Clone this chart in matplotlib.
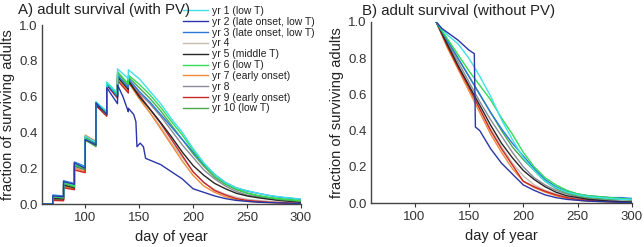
import numpy as np
import matplotlib
matplotlib.use("Agg")
import matplotlib.pyplot as plt

plt.rcParams.update({"font.family": ["Liberation Sans", "DejaVu Sans"],
                     "axes.spines.top": False, "axes.spines.right": False})

LABELS = ["yr 1 (low T)", "yr 2 (late onset, low T)", "yr 3 (late onset, low T)", "yr 4",
          "yr 5 (middle T)", "yr 6 (low T)", "yr 7 (early onset)", "yr 8",
          "yr 9 (early onset)", "yr 10 (low T)"]
COLORS = ["#3fe0e8", "#2a36a8", "#2a78d8", "#c8bcb0", "#262626", "#2fdc55",
          "#f08a3a", "#8a8a98", "#c82828", "#4aaa4a"]

# ── panel A: with PV (releases every 10 days -> sawtooth) ─────────
DAY_A = [60, 70, 70, 80, 80, 90, 90, 100, 100, 110, 110, 120, 120, 130, 130, 140, 140,
         150, 160, 170, 180, 190, 200, 210, 220, 230, 240, 250, 260, 270, 280, 290, 300]
A1 = [0, 0, .045, .04, .125, .11, .23, .205, .38, .345, .57, .52, .68, .62, .755, .70, .75,
      .70, .63, .56, .475, .40, .31, .23, .165, .12, .09, .075, .06, .048, .04, .034, .028]
A3 = [0, 0, .05, .045, .13, .115, .235, .21, .365, .34, .56, .515, .67, .60, .72, .65, .70,
      .63, .57, .50, .43, .36, .29, .22, .165, .12, .09, .072, .06, .048, .038, .032, .026]
A4 = [0, 0, .03, .027, .10, .088, .205, .185, .37, .335, .55, .495, .665, .60, .70, .63, .685,
      .59, .51, .43, .34, .26, .18, .12, .08, .055, .038, .026, .02, .015, .01, .008, .005]
A5 = [0, 0, .03, .028, .105, .09, .215, .195, .36, .33, .555, .505, .665, .60, .71, .64, .69,
      .60, .53, .455, .375, .29, .215, .16, .115, .085, .06, .045, .035, .027, .02, .015, .01]
A6 = [0, 0, .04, .035, .12, .10, .22, .20, .37, .33, .57, .51, .68, .61, .74, .67, .72,
      .67, .61, .54, .46, .385, .30, .225, .16, .115, .085, .062, .048, .038, .03, .025, .02]
A7 = [0, 0, .025, .022, .095, .085, .20, .18, .385, .35, .56, .50, .67, .60, .70, .63, .68,
      .59, .51, .42, .33, .24, .16, .10, .065, .04, .025, .015, .01, .008, .005, .003, .002]
A8 = [0, 0, .035, .03, .11, .095, .21, .19, .355, .325, .55, .50, .67, .60, .72, .64, .69,
      .62, .56, .49, .41, .33, .26, .19, .14, .10, .07, .05, .04, .03, .02, .015, .01]
A9 = [0, 0, .02, .018, .09, .08, .19, .175, .375, .335, .55, .49, .665, .59, .69, .62, .68,
      .61, .53, .45, .36, .27, .18, .12, .075, .05, .03, .02, .015, .01, .008, .005, .003]
A10 = [0, 0, .04, .035, .115, .095, .215, .195, .36, .32, .565, .50, .675, .61, .735, .66, .71,
       .65, .59, .52, .44, .36, .28, .21, .15, .11, .08, .06, .045, .035, .025, .02, .015]
DAY_A2 = [60, 70, 70, 80, 80, 90, 90, 100, 100, 110, 110, 120, 120, 130, 130, 135, 140, 140,
          145, 147, 148, 151, 154, 156, 160, 170, 180, 190, 200, 210, 220, 230, 240, 250,
          260, 270, 280, 290, 300]
A2 = [0, 0, .045, .04, .125, .11, .23, .20, .36, .33, .565, .50, .65, .56, .665, .60, .515, .535,
      .50, .46, .32, .34, .32, .255, .245, .22, .18, .14, .085, .065, .045, .03, .02, .015,
      .01, .008, .006, .004, .003]

# ── panel B: without PV (single cohort from day 120) ──────────────
DAY_B = [120, 130, 140, 150, 160, 170, 180, 190, 200, 210, 220, 230, 240, 250, 260, 270,
         280, 290, 300]
B1 = [1.0, .93, .88, .80, .70, .59, .46, .35, .25, .18, .12, .085, .06, .045, .035, .03, .025, .02, .02]
B3 = [1.0, .90, .80, .70, .60, .50, .41, .33, .26, .19, .13, .09, .065, .05, .04, .035, .03, .03, .025]
B4 = [1.0, .87, .75, .63, .52, .41, .31, .22, .15, .10, .07, .05, .035, .025, .018, .012, .008, .006, .004]
B5 = [1.0, .88, .76, .65, .54, .43, .33, .25, .18, .13, .09, .06, .04, .03, .02, .015, .01, .008, .005]
B6 = [1.0, .91, .82, .73, .65, .57, .47, .38, .28, .20, .14, .10, .07, .05, .04, .035, .03, .025, .02]
B7 = [1.0, .86, .74, .62, .50, .38, .28, .19, .12, .085, .06, .04, .025, .015, .01, .008, .005, .003, .002]
B8 = [1.0, .89, .78, .67, .56, .46, .37, .28, .20, .14, .10, .07, .05, .035, .025, .02, .015, .01, .01]
B9 = [1.0, .87, .75, .64, .52, .40, .30, .21, .12, .09, .065, .045, .03, .02, .015, .01, .008, .005, .003]
B10 = [1.0, .90, .80, .70, .60, .50, .40, .31, .24, .18, .12, .08, .055, .04, .03, .025, .02, .02, .015]
DAY_B2 = [120, 125, 140, 150, 155, 156, 160, 170, 180, 190, 200, 210, 220, 230, 240, 250,
          260, 270, 280, 290, 300]
B2 = [1.0, .965, .90, .845, .825, .42, .40, .30, .22, .16, .10, .07, .045, .03, .02, .015,
      .01, .008, .006, .004, .003]

series_a = [(DAY_A, A1), (DAY_A2, A2), (DAY_A, A3), (DAY_A, A4), (DAY_A, A5),
            (DAY_A, A6), (DAY_A, A7), (DAY_A, A8), (DAY_A, A9), (DAY_A, A10)]
series_b = [(DAY_B, B1), (DAY_B2, B2), (DAY_B, B3), (DAY_B, B4), (DAY_B, B5),
            (DAY_B, B6), (DAY_B, B7), (DAY_B, B8), (DAY_B, B9), (DAY_B, B10)]

fig = plt.figure(figsize=(6.44, 2.47), dpi=100)
ax_a = fig.add_axes([42 / 644, 1 - 204 / 247, 259 / 644, 179 / 247])
ax_b = fig.add_axes([371 / 644, 1 - 203 / 247, 261 / 644, 181 / 247])

# draw order: put the highlighted ones on top roughly as in the original
order = [3, 7, 6, 8, 4, 9, 2, 5, 0, 1]
for ax, series in ((ax_a, series_a), (ax_b, series_b)):
    for i in order:
        d, v = series[i]
        ax.plot(d, v, color=COLORS[i], lw=1.0, label=LABELS[i])
    ax.set_xlim(60, 300)
    ax.set_ylim(0, 1.0)
    ax.set_xticks([100, 150, 200, 250, 300])
    ax.set_yticks(np.arange(0, 1.01, 0.2))
    ax.yaxis.set_major_formatter(matplotlib.ticker.FormatStrFormatter("%.1f"))
    ax.tick_params(axis="both", labelsize=9.5, colors="#333333", length=0, pad=3)
    ax.tick_params(axis="x", length=3, direction="out")
    for s in ("left", "bottom"):
        ax.spines[s].set_color("#444444")
        ax.spines[s].set_linewidth(1.0)
    ax.set_xlabel("day of year", fontsize=10.5, color="#222222", labelpad=4)
    ax.set_ylabel("fraction of surviving adults", fontsize=10.5, color="#222222", labelpad=3)

fig.text(18 / 644, 1 - 10 / 247, "A) adult survival (with PV)", fontsize=10.8,
         color="#222222", va="center", ha="left")
fig.text(362 / 644, 1 - 11 / 247, "B) adult survival (without PV)", fontsize=10.8,
         color="#222222", va="center", ha="left")

handles, labels = ax_a.get_legend_handles_labels()
by_label = dict(zip(labels, handles))
ax_a.legend([by_label[l] for l in LABELS], LABELS, loc="upper left",
            bbox_to_anchor=(183 / 644, 1 - 6 / 247), bbox_transform=fig.transFigure,
            frameon=False, fontsize=7.5, borderpad=0, borderaxespad=0,
            handlelength=2.4, handletextpad=0.4, labelspacing=0.08,
            labelcolor="#222222")

fig.savefig("out.png", dpi=100)
